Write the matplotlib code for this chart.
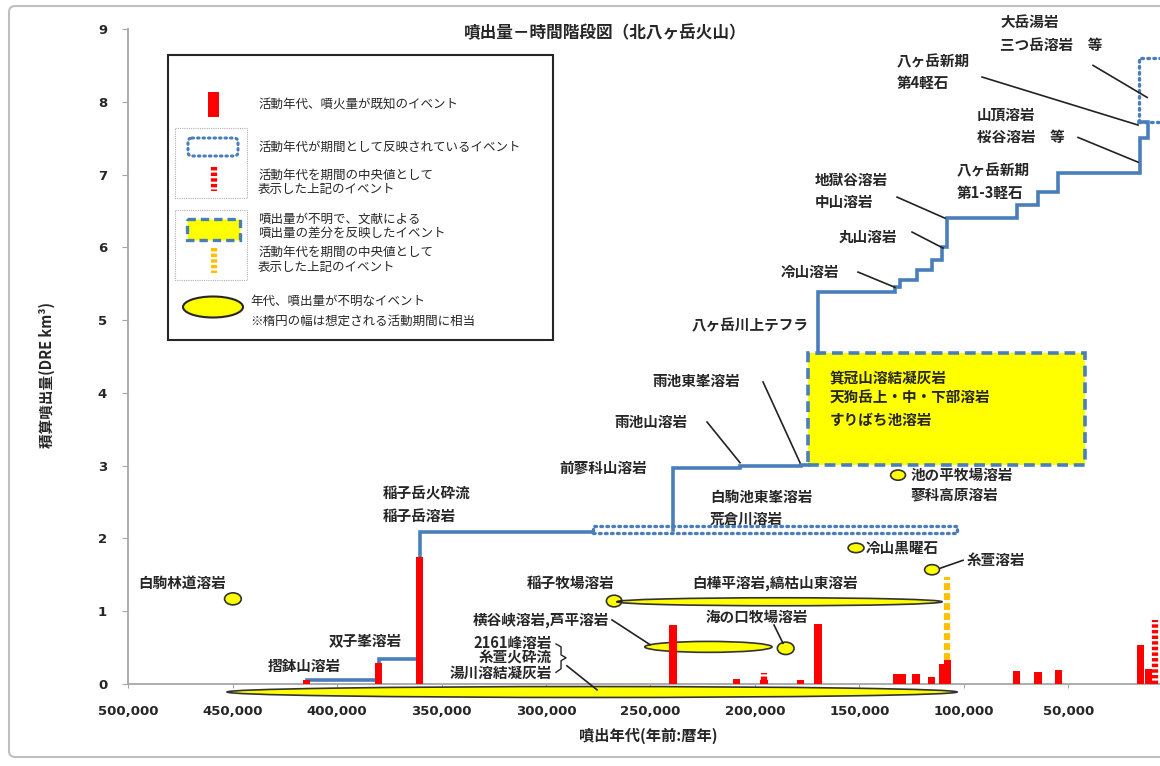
import numpy as np
import matplotlib
matplotlib.use("Agg")
import matplotlib.pyplot as plt
from matplotlib.patches import Rectangle, Ellipse, FancyBboxPatch

plt.rcParams['font.family'] = ['Noto Sans CJK JP', 'DejaVu Sans']

BLUE = '#4A7EBB'
RED = '#FF0000'
YEL = '#FFFF00'
GOLD = '#FFC000'
GRAY = '#A6A6A6'

# eruptions with known age and volume (years BP, DRE km3)
bar_age = [414500, 380000, 360500, 239200, 208800, 195700, 178200, 169900,
           132400, 129300, 122900, 115500, 110300, 108000, 74900, 64600, 54800,
           15500, 11800]
bar_vol = [0.06, 0.29, 1.74, 0.81, 0.07, 0.06, 0.05, 0.83,
           0.14, 0.14, 0.14, 0.10, 0.27, 0.33, 0.18, 0.17, 0.19,
           0.53, 0.20]

# events plotted at the middle of their period (dashed bars): age, base, top
mid_red_age = [8600, 195700]
mid_red_lo = [0.0, 0.06]
mid_red_hi = [0.88, 0.15]
mid_yel_age = [108000]
mid_yel_lo = [0.33]
mid_yel_hi = [1.47]

# cumulative step line, three solid pieces
step1_age = [414500, 380000, 360500, 277500]
step1_vol = [0.05, 0.34, 2.09, 2.09]
step2_age = [239200, 239200, 207000, 178000, 174600]
step2_vol = [2.12, 2.97, 2.99, 3.01, 3.01]
step3_age = [169800, 169800, 133000, 130500, 122500, 115300, 110500, 108000,
             74700, 64700, 54800, 15600, 12000, 12000, 16200]
step3_vol = [4.55, 5.38, 5.45, 5.55, 5.69, 5.82, 6.00, 6.40,
             6.58, 6.76, 7.02, 7.50, 7.72, 7.72, 7.72]

# events whose age is a period (dotted boxes): start, end, low, high
per_start = [277500, 16200]
per_end = [103500, -12000]
per_lo = [2.07, 7.72]
per_hi = [2.17, 8.60]

# volume unknown, taken from literature difference (yellow box)
box_start, box_end = 174600, 42100
box_lo, box_hi = 3.01, 4.55

# age & volume unknown (ellipses): centre age, level, span, height
ell_age = [449800, 267400, 188250, 222300, 185300, 151650, 115300, 131550, 277950]
ell_vol = [1.17, 1.14, 1.13, 0.51, 0.49, 1.87, 1.57, 2.87, -0.11]
ell_span = [8000, 7400, 155500, 60900, 8000, 7600, 7100, 7100, 349300]
ell_hgt = [0.165, 0.16, 0.11, 0.15, 0.17, 0.13, 0.14, 0.14, 0.15]

xticks = [500000, 450000, 400000, 350000, 300000, 250000, 200000, 150000, 100000, 50000]
yticks = [0, 1, 2, 3, 4, 5, 6, 7, 8, 9]

labels = [
    (82750, 9.09, '大岳湯岩'), (82750, 8.78, '三つ岳溶岩　等'),
    (132030, 8.56, '八ヶ岳新期'), (132030, 8.26, '第4軽石'),
    (93750, 7.83, '山頂溶岩'), (93750, 7.51, '桜谷溶岩　等'),
    (103330, 7.06, '八ヶ岳新期'), (103330, 6.74, '第1-3軽石'),
    (171270, 6.92, '地獄谷溶岩'), (171270, 6.62, '中山溶岩'),
    (159800, 6.14, '丸山溶岩'),
    (187540, 5.66, '冷山溶岩'),
    (230130, 4.93, '八ヶ岳川上テフラ'),
    (249270, 4.16, '雨池東峯溶岩'),
    (267450, 3.60, '雨池山溶岩'),
    (293770, 2.98, '前蓼科山溶岩'),
    (377980, 2.62, '稲子岳火砕流'), (377980, 2.31, '稲子岳溶岩'),
    (221510, 2.57, '白駒池東峯溶岩'), (221510, 2.27, '荒倉川溶岩'),
    (125810, 2.87, '池の平牧場溶岩'), (125810, 2.60, '蓼科高原溶岩'),
    (146870, 1.87, '冷山黒曜石'),
    (99020, 1.70, '糸萱溶岩'),
    (309080, 1.39, '稲子牧場溶岩'),
    (230130, 1.39, '白樺平溶岩,縞枯山東溶岩'),
    (334920, 0.88, '横谷峡溶岩,芦平溶岩'),
    (223890, 0.92, '海の口牧場溶岩'),
    (403820, 0.60, '双子峯溶岩'),
    (433010, 0.25, '摺鉢山溶岩'),
    (495215, 1.39, '白駒林道溶岩'),
    (164090, 4.20, '箕冠山溶結凝灰岩'),
    (164090, 3.93, '天狗岳上・中・下部溶岩'),
    (164090, 3.63, 'すりばち池溶岩'),
]
labels_right = [
    (297120, 0.56, '2161峰溶岩'), (297120, 0.36, '糸萱火砕流'),
    (297120, 0.15, '湯川溶結凝灰岩'),
]

leaders = [
    ((38250, 8.50), (12400, 8.06)),
    ((91360, 8.34), (16700, 7.68)),
    ((45430, 7.51), (16700, 7.17)),
    ((132030, 6.69), (109060, 6.40)),
    ((124860, 6.21), (110030, 5.99)),
    ((150700, 5.66), (133000, 5.45)),
    ((196150, 4.15), (178450, 3.04)),
    ((222950, 3.60), (207160, 3.04)),
    ((100450, 1.70), (111460, 1.59)),
    ((268400, 0.88), (250200, 0.54)),
    ((190900, 0.81), (186600, 0.56)),
    ((263700, 1.14), (266000, 1.13)),
    ((290000, 0.25), (275600, -0.08)),
]
brace_age = [295200, 292800, 292800, 290400, 292800, 292800, 295200]
brace_vol = [0.55, 0.51, 0.40, 0.36, 0.32, 0.21, 0.16]

fig = plt.figure(figsize=(11.6, 7.66), dpi=100)
ax = fig.add_axes([128 / 1160, 82 / 766, 1045 / 1160, 655 / 766])
ax.set_xlim(500000, 0)
ax.set_ylim(0, 9)

for a, v, w, h in zip(ell_age, ell_vol, ell_span, ell_hgt):
    ax.add_patch(Ellipse((a, v), w, h, facecolor=YEL, edgecolor='#333333',
                         lw=1.2, zorder=2, clip_on=False))

ax.add_patch(Rectangle((box_start, box_lo), box_end - box_start, box_hi - box_lo,
                       facecolor=YEL, edgecolor=BLUE, lw=2.6, ls=(0, (3, 1.6)), zorder=2))

for s, e, lo, hi in zip(per_start, per_end, per_lo, per_hi):
    r = Rectangle((s, lo), e - s, hi - lo, fill=False, edgecolor=BLUE, lw=2.4,
                  ls=(0, (0.5, 1.3)), zorder=3, clip_on=False)
    r.set_capstyle('round')
    ax.add_patch(r)

for sa, sv in [(step1_age, step1_vol), (step2_age, step2_vol), (step3_age, step3_vol)]:
    ax.plot(sa, sv, drawstyle='steps-post', color=BLUE, lw=2.6, zorder=3,
            solid_joinstyle='miter', clip_on=False)

ax.bar(bar_age, bar_vol, width=3500, color=RED, zorder=4)
ax.vlines(mid_red_age, mid_red_lo, mid_red_hi, colors=RED, lw=4.5,
          linestyles=(0, (0.55, 0.35)), zorder=4)
ax.vlines(mid_yel_age, mid_yel_lo, mid_yel_hi, colors=GOLD, lw=4.5,
          linestyles=(0, (1.1, 0.5)), zorder=4)

for (a1, v1), (a2, v2) in leaders:
    ax.plot([a1, a2], [v1, v2], color='#222222', lw=1.2, zorder=5, clip_on=False)
ax.plot(brace_age, brace_vol, color='#222222', lw=1.0, zorder=5)

for a, v, t in labels:
    ax.text(a, v, t, ha='left', va='center', fontsize=10.5, fontweight='bold',
            color='#262626', zorder=6)
for a, v, t in labels_right:
    ax.text(a, v, t, ha='right', va='center', fontsize=10.5, fontweight='bold',
            color='#262626', zorder=6)

for side in ['top', 'right']:
    ax.spines[side].set_visible(False)
for side in ['left', 'bottom']:
    ax.spines[side].set_color(GRAY)
    ax.spines[side].set_linewidth(1.3)
ax.set_xticks(xticks)
ax.set_xticklabels([f'{v:,}' for v in xticks])
ax.set_yticks(yticks)
ax.tick_params(axis='x', direction='out', length=3, color=GRAY, pad=12)
ax.tick_params(axis='y', direction='out', length=4, color=GRAY, pad=11)
for lab in ax.get_xticklabels() + ax.get_yticklabels():
    lab.set_fontfamily('DejaVu Sans')
    lab.set_fontweight('bold')
    lab.set_fontsize(9.5)
    lab.set_color('#262626')

# page layer in pixel units for title, axis labels, legend and frame
lay = fig.add_axes([0, 0, 1, 1])
lay.set_xlim(0, 1160)
lay.set_ylim(766, 0)
lay.axis('off')
lay.patch.set_visible(False)

lay.add_patch(FancyBboxPatch((9, 6), 1200, 751, boxstyle='round,pad=0,rounding_size=6',
                             fill=False, edgecolor='#BFBFBF', lw=1.5))
lay.text(605, 33, '噴出量－時間階段図（北八ヶ岳火山）', ha='center', va='center',
         fontsize=12, fontweight='bold', color='#262626')
lay.text(648, 736, '噴出年代(年前:暦年)', ha='center', va='center',
         fontsize=11, fontweight='bold', color='#262626')
lay.text(47, 375, '積算噴出量(DRE km³)', ha='center', va='center', rotation=90,
         fontsize=10.5, fontweight='bold', color='#262626')

lay.add_patch(Rectangle((168, 55), 385, 285, facecolor='white', edgecolor='#262626', lw=1.5))
lay.add_patch(Rectangle((208, 92), 11, 25, facecolor=RED, edgecolor='none'))
for y0 in [128, 210]:
    lay.add_patch(Rectangle((175, y0), 72, 70, fill=False, edgecolor='#B0B0B0',
                            lw=0.8, ls=(0, (1, 1))))
r = FancyBboxPatch((188, 138), 50, 18, boxstyle='round,pad=0,rounding_size=4',
                   fill=False, edgecolor=BLUE, lw=2.2, ls=(0, (0.5, 1.3)))
r.set_capstyle('round')
lay.add_patch(r)
lay.vlines([214], [167], [191], colors=RED, lw=4.5, linestyles=(0, (0.55, 0.35)))
lay.add_patch(Rectangle((187, 219), 53, 21, facecolor=YEL, edgecolor=BLUE, lw=2.4,
                        ls=(0, (2.5, 1.5))))
lay.vlines([214], [248], [273], colors=GOLD, lw=4.5, linestyles=(0, (0.55, 0.35)))
lay.add_patch(Ellipse((213, 307), 60, 21, facecolor=YEL, edgecolor='#262626', lw=1.5))

legend_rows = [
    (258, 104, '活動年代、噴火量が既知のイベント'),
    (258, 147, '活動年代が期間として反映されているイベント'),
    (258, 175, '活動年代を期間の中央値として'),
    (258, 190, '表示した上記のイベント'),
    (258, 219, '噴出量が不明で、文献による'),
    (258, 233, '噴出量の差分を反映したイベント'),
    (258, 252, '活動年代を期間の中央値として'),
    (258, 267, '表示した上記のイベント'),
    (250, 301, '年代、噴出量が不明なイベント'),
    (250, 321, '※楕円の幅は想定される活動期間に相当'),
]
for x, y, t in legend_rows:
    lay.text(x, y, t, ha='left', va='center', fontsize=9, color='#262626')

fig.savefig('out.png', dpi=100)
